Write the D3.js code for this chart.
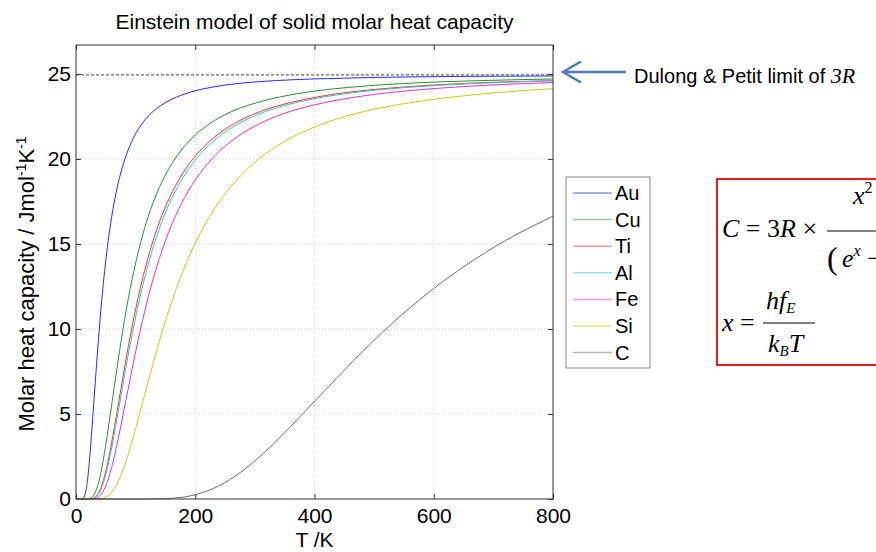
<!DOCTYPE html>
<meta charset="utf-8">
<style>
body { margin: 0; background: #fff; }
svg text { font-family: "Liberation Sans", Arial, sans-serif; fill: #000; }
.grid line { stroke: #cfcfcf; stroke-dasharray: 1,2; }
.serif { font-family: "Liberation Serif", "Times New Roman", serif; }
.it { font-style: italic; }
</style>
<svg width="876" height="552"></svg>
<script src="https://d3js.org/d3.v7.min.js"></script>
<script>

// element names, colours and the Dulong-Petit limit
var elements = ["Au", "Cu", "Ti", "Al", "Fe", "Si", "C"];
var colours = ["#2b2bff", "#2e8f2e", "#ff3030", "#2ec4c4", "#e030e0", "#c9c914", "#6e6e6e"];
var limit3R = 24.94;

// [T, C]
var auPts = [[0,0],[9,0],[11.3,0.02],[13.5,0.11],[15,0.25],[16.9,0.54],[19.3,1.12],[20.8,1.59],[22.5,2.24],[24.5,3.11],[27,4.26],[30,5.74],[33.8,7.58],[36,8.65],[38.6,9.81],[41.5,11.06],[45,12.38],[49.1,13.76],[54,15.19],[60,16.63],[67.5,18.06],[75,19.17],[84.4,20.24],[96.4,21.24],[112.5,22.15],[135,22.96],[150,23.31],[168.8,23.64],[192.9,23.94],[225,24.2],[270,24.43],[337.5,24.61],[450,24.75],[675,24.86],[800,24.88]];
var cuPts = [[0,0],[18.2,0],[22.8,0.02],[27.3,0.11],[30.3,0.25],[34.1,0.54],[39,1.12],[42,1.59],[45.5,2.24],[49.6,3.11],[54.6,4.26],[60.7,5.74],[68.3,7.58],[72.8,8.65],[78,9.81],[84,11.06],[91,12.38],[99.3,13.76],[109.2,15.19],[121.3,16.63],[136.5,18.06],[151.7,19.17],[170.6,20.24],[195,21.24],[227.5,22.15],[273,22.96],[303.3,23.31],[341.3,23.64],[390,23.94],[455,24.2],[546,24.43],[682.5,24.61],[800,24.7]];
var tiPts = [[0,0],[21.5,0],[26.9,0.02],[32.3,0.11],[35.9,0.25],[40.4,0.54],[46.1,1.12],[49.7,1.59],[53.8,2.24],[58.7,3.11],[64.6,4.26],[71.8,5.74],[80.8,7.58],[86.1,8.65],[92.3,9.81],[99.4,11.06],[107.7,12.38],[117.5,13.76],[129.2,15.19],[143.6,16.63],[161.5,18.06],[179.4,19.17],[201.9,20.24],[230.7,21.24],[269.2,22.15],[323,22.96],[358.9,23.31],[403.8,23.64],[461.4,23.94],[538.3,24.2],[646,24.43],[800,24.6]];
var alPts = [[0,0],[22.1,0],[27.7,0.02],[33.2,0.11],[36.9,0.25],[41.5,0.54],[47.4,1.12],[51.1,1.59],[55.3,2.24],[60.4,3.11],[66.4,4.26],[73.8,5.74],[83,7.58],[88.5,8.65],[94.9,9.81],[102.2,11.06],[110.7,12.38],[120.7,13.76],[132.8,15.19],[147.6,16.63],[166,18.06],[184.4,19.17],[207.5,20.24],[237.1,21.24],[276.7,22.15],[332,22.96],[368.9,23.31],[415,23.64],[474.3,23.94],[553.3,24.2],[664,24.43],[800,24.59]];
var fePts = [[0,0],[25,0],[31.3,0.02],[37.5,0.11],[41.7,0.25],[46.9,0.54],[53.6,1.12],[57.7,1.59],[62.5,2.24],[68.2,3.11],[75,4.26],[83.3,5.74],[93.8,7.58],[100,8.65],[107.1,9.81],[115.4,11.06],[125,12.38],[136.4,13.76],[150,15.19],[166.7,16.63],[187.5,18.06],[208.3,19.17],[234.4,20.24],[267.9,21.24],[312.5,22.15],[375,22.96],[416.7,23.31],[468.8,23.64],[535.7,23.94],[625,24.2],[750,24.43],[800,24.49]];
var siPts = [[0,0],[33.7,0],[42.1,0.02],[50.5,0.11],[56.1,0.25],[63.1,0.54],[72.1,1.12],[77.7,1.59],[84.2,2.24],[91.8,3.11],[101,4.26],[112.2,5.74],[126.3,7.58],[134.7,8.65],[144.3,9.81],[155.4,11.06],[168.3,12.38],[183.6,13.76],[202,15.19],[224.4,16.63],[252.5,18.06],[280.6,19.17],[315.6,20.24],[360.7,21.24],[420.8,22.15],[505,22.96],[561.1,23.31],[631.3,23.64],[721.4,23.94],[800,24.13]];
var cPts = [[0,0],[120,0],[150,0.02],[180,0.11],[200,0.25],[225,0.54],[257.1,1.12],[276.9,1.59],[300,2.24],[327.3,3.11],[360,4.26],[400,5.74],[450,7.58],[480,8.65],[514.3,9.81],[553.8,11.06],[600,12.38],[654.5,13.76],[720,15.19],[800,16.63]];

var xTicks = [0, 200, 400, 600, 800];
var yTicks = [0, 5, 10, 15, 20, 25];

var series = [auPts, cuPts, tiPts, alPts, fePts, siPts, cPts].map(function(p, i) {
  return {name: elements[i], colour: colours[i], pts: p};
});

var svg = d3.select("svg");
var pL = 76, pR = 553, pT = 45, pB = 499;

var x = d3.scaleLinear().domain([0, 800]).range([pL, pR]);
var y = d3.scaleLinear().domain([0, 26.7]).range([pB, pT]);

// grid
var grid = svg.append("g").attr("class", "grid");
grid.selectAll(".gx").data(xTicks.slice(1, -1)).enter().append("line")
    .attr("x1", d => x(d)).attr("x2", d => x(d)).attr("y1", pT).attr("y2", pB);
grid.selectAll(".gy").data(yTicks.slice(1)).enter().append("line")
    .attr("x1", pL).attr("x2", pR).attr("y1", d => y(d)).attr("y2", d => y(d));

// axes, ticks pointing inward like matlab
function styleAxis(g) {
  g.select(".domain").remove();
  g.selectAll(".tick line").attr("stroke", "#333");
  g.selectAll("text").style("font-size", "21px").attr("fill", "#000");
}
svg.append("g").attr("transform", "translate(0," + pB + ")")
    .call(d3.axisBottom(x).tickValues(xTicks).tickSizeInner(-5).tickSizeOuter(0).tickPadding(9))
    .call(styleAxis);
svg.append("g").attr("transform", "translate(0," + pT + ")")
    .call(d3.axisTop(x).tickValues(xTicks).tickSizeInner(-5).tickSizeOuter(0).tickFormat(""))
    .call(styleAxis);
svg.append("g").attr("transform", "translate(" + pL + ",0)")
    .call(d3.axisLeft(y).tickValues(yTicks).tickSizeInner(-5).tickSizeOuter(0).tickPadding(5))
    .call(styleAxis);
svg.append("g").attr("transform", "translate(" + pR + ",0)")
    .call(d3.axisRight(y).tickValues(yTicks).tickSizeInner(-5).tickSizeOuter(0).tickFormat(""))
    .call(styleAxis);

// 3R dashed line
svg.append("line")
    .attr("x1", pL).attr("x2", pR)
    .attr("y1", y(limit3R)).attr("y2", y(limit3R))
    .attr("stroke", "#444").attr("stroke-dasharray", "3,2");

// curves
var line = d3.line().x(d => x(d[0])).y(d => y(d[1])).curve(d3.curveMonotoneX);
svg.append("g").selectAll("path").data(series).enter().append("path")
    .attr("fill", "none")
    .attr("stroke", d => d.colour)
    .attr("stroke-width", 1)
    .attr("d", d => line(d.pts));

// box
svg.append("rect")
    .attr("x", pL).attr("y", pT)
    .attr("width", pR - pL).attr("height", pB - pT)
    .attr("fill", "none").attr("stroke", "#333");

// titles
svg.append("text").attr("x", (pL + pR) / 2).attr("y", 29)
    .attr("text-anchor", "middle").style("font-size", "21px")
    .text("Einstein model of solid molar heat capacity");
svg.append("text").attr("x", (pL + pR) / 2).attr("y", 547)
    .attr("text-anchor", "middle").style("font-size", "21px")
    .text("T /K");
var yl = svg.append("text")
    .attr("transform", "translate(34," + ((pT + pB) / 2 + 12) + ") rotate(-90)")
    .attr("text-anchor", "middle").style("font-size", "22px");
yl.append("tspan").text("Molar heat capacity / Jmol");
yl.append("tspan").attr("dy", -8).style("font-size", "14px").text("-1");
yl.append("tspan").attr("dy", 8).text("K");
yl.append("tspan").attr("dy", -8).style("font-size", "14px").text("-1");

// legend
var lg = svg.append("g");
lg.append("rect").attr("x", 566).attr("y", 177).attr("width", 84).attr("height", 191)
    .attr("fill", "#fff").attr("stroke", "#888");
var item = lg.selectAll(".item").data(series).enter().append("g")
    .attr("transform", (d, i) => "translate(0," + (193 + i * 26.6) + ")");
item.append("line").attr("x1", 573).attr("x2", 612)
    .attr("stroke", d => d.colour).attr("stroke-width", 1.5).attr("stroke-opacity", 0.5);
item.append("text").attr("x", 615).attr("y", 7).style("font-size", "20px").text(d => d.name);

// Dulong & Petit annotation
var arrowCol = "#4a7ebb";
svg.append("line").attr("x1", 564).attr("x2", 626).attr("y1", 72).attr("y2", 72)
    .attr("stroke", arrowCol).attr("stroke-width", 2.5);
svg.append("path").attr("d", "M581,61.5 L563,72 L581,82.5")
    .attr("fill", "none").attr("stroke", arrowCol).attr("stroke-width", 2.5);
var ann = svg.append("text").attr("x", 634).attr("y", 83).style("font-size", "20px");
ann.append("tspan").text("Dulong & Petit limit of ");
ann.append("tspan").attr("class", "serif it").style("font-size", "22px").text("3R");

// formula box
svg.append("rect").attr("x", 717).attr("y", 179).attr("width", 200).attr("height", 186)
    .attr("fill", "none").attr("stroke", "#e81c1c").attr("stroke-width", 2);
var f1 = svg.append("text").attr("class", "serif").attr("x", 722).attr("y", 237).style("font-size", "26px");
f1.append("tspan").attr("class", "it").text("C");
f1.append("tspan").text(" = 3");
f1.append("tspan").attr("class", "it").text("R");
f1.append("tspan").text(" \u00d7");
svg.append("line").attr("x1", 827).attr("x2", 880).attr("y1", 231).attr("y2", 231)
    .attr("stroke", "#000").attr("stroke-width", 1.2);
var num = svg.append("text").attr("class", "serif").attr("x", 853).attr("y", 204).style("font-size", "26px");
num.append("tspan").attr("class", "it").text("x");
num.append("tspan").attr("dy", -11).style("font-size", "16px").text("2");
svg.append("text").attr("class", "serif").attr("x", 827).attr("y", 269).style("font-size", "32px").text("(");
var den = svg.append("text").attr("class", "serif").attr("x", 842).attr("y", 267).style("font-size", "26px");
den.append("tspan").attr("class", "it").text("e");
den.append("tspan").attr("dy", -11).attr("class", "it").style("font-size", "16px").text("x");
den.append("tspan").attr("dy", 11).text(" \u2212");

var f2 = svg.append("text").attr("class", "serif").attr("x", 722).attr("y", 331).style("font-size", "26px");
f2.append("tspan").attr("class", "it").text("x");
f2.append("tspan").text(" =");
svg.append("line").attr("x1", 763).attr("x2", 815).attr("y1", 323).attr("y2", 323)
    .attr("stroke", "#000").attr("stroke-width", 1.2);
var hf = svg.append("text").attr("class", "serif it").attr("x", 766).attr("y", 309).style("font-size", "26px");
hf.append("tspan").text("hf");
hf.append("tspan").attr("dy", 4).style("font-size", "15px").text("E");
var kb = svg.append("text").attr("class", "serif it").attr("x", 768).attr("y", 352).style("font-size", "26px");
kb.append("tspan").text("k");
kb.append("tspan").attr("dy", 4).style("font-size", "15px").text("B");
kb.append("tspan").attr("dy", -4).text("T");

</script>
